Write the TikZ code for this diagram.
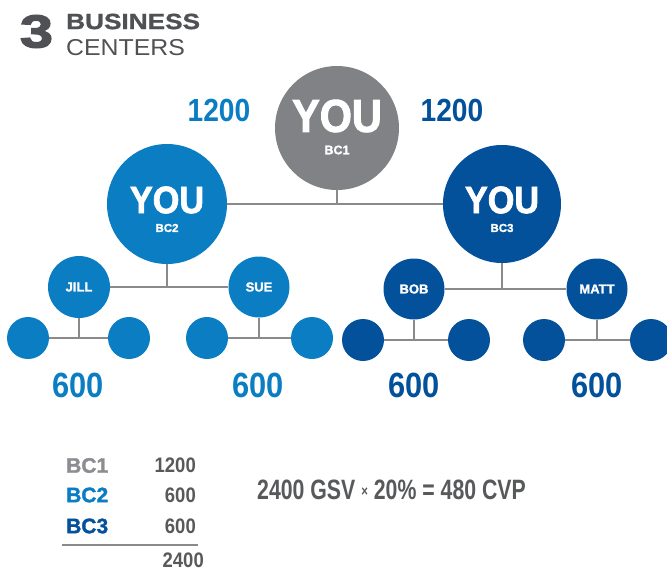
\documentclass[tikz,border=0pt]{standalone}
\usepackage{fontspec}
\setmainfont{Liberation Sans}
\newfontfamily\condf[FakeStretch=0.88]{Liberation Sans Bold}
\newfontfamily\eqf[FakeStretch=0.76]{Liberation Sans Bold}
\newfontfamily\titleb[FakeStretch=1.19,FakeBold=1.2]{Liberation Sans Bold}
\newfontfamily\titlef[FakeStretch=1.08]{Liberation Sans}
\newfontfamily\threef[FakeStretch=1.3,FakeBold=3]{Liberation Sans Bold}
\newfontfamily\youf[FakeStretch=0.9,FakeBold=2]{Liberation Sans Bold}
\newfontfamily\heavyf[FakeBold=1.5]{Liberation Sans Bold}
\definecolor{cgray}{HTML}{808285}
\definecolor{clight}{HTML}{0A7DC3}
\definecolor{cdark}{HTML}{03519B}
\definecolor{ctitle}{HTML}{505154}
\definecolor{ctext}{HTML}{58595B}
\definecolor{clabel}{HTML}{8C8D90}
\definecolor{cline}{HTML}{8A8A8C}
\tikzset{
  circ/.style={circle,draw=none,inner sep=0pt},
  conn/.style={draw=cline,line width=1.8pt},
  you/.style={inner sep=0pt,text=white,font=\youf\fontsize{#1}{#1}\selectfont},
  small/.style={inner sep=0pt,text=white,font=\heavyf\fontsize{#1}{#1}\selectfont},
  num/.style={inner sep=0pt,font=\condf\fontsize{#1}{#1}\selectfont},
  tlab/.style={inner sep=0pt,anchor=west,font=\heavyf\fontsize{21}{21}\selectfont},
}
\begin{document}
\begin{tikzpicture}[x=1pt,y=-1pt]
\useasboundingbox (0,0) rectangle (667,571);
% title
\node[inner sep=0pt,text=ctitle,font=\threef\fontsize{46}{46}\selectfont] (three) at (36.5,31.5) {3};
\node[inner sep=0pt,anchor=west,text=ctitle,font=\titleb\fontsize{22}{22}\selectfont] (business) at (66,21.5) {BUSINESS};
\node[inner sep=0pt,anchor=west,text=ctitle,font=\titlef\fontsize{23}{23}\selectfont] (centers) at (66,47.5) {CENTERS};
% main circles
\node[circ,fill=cgray,minimum size=124pt] (bc1) at (337,128) {};
\node[circ,fill=clight,minimum size=120pt] (bc2) at (167,204) {};
\node[circ,fill=cdark,minimum size=118pt] (bc3) at (502,204) {};
\node[you=46] (bc1you) at (337,116) {YOU};
\node[small=12.5] (bc1lab) at (337,150) {BC1};
\node[you=38] (bc2you) at (167,200) {YOU};
\node[small=11.5] (bc2lab) at (167,228) {BC2};
\node[you=38] (bc3you) at (502,200) {YOU};
\node[small=11.5] (bc3lab) at (502,228) {BC3};
% second level
\node[circ,fill=clight,minimum size=62pt] (jill) at (79,287) {};
\node[small=13] (jilllab) at (79,287) {JILL};
\node[circ,fill=clight,minimum size=61pt] (sue) at (259,287) {};
\node[small=13] (suelab) at (259,287) {SUE};
\node[circ,fill=cdark,minimum size=61pt] (bob) at (414,289) {};
\node[small=13] (boblab) at (414,289) {BOB};
\node[circ,fill=cdark,minimum size=61pt] (matt) at (597,289) {};
\node[small=13] (mattlab) at (597,289) {MATT};
% third level
\node[circ,fill=clight,minimum size=42pt] (j1) at (28,338) {};
\node[circ,fill=clight,minimum size=42pt] (j2) at (129,338) {};
\node[circ,fill=clight,minimum size=42pt] (s1) at (207,338) {};
\node[circ,fill=clight,minimum size=42pt] (s2) at (312,338) {};
\node[circ,fill=cdark,minimum size=42pt] (b1) at (363,340) {};
\node[circ,fill=cdark,minimum size=42pt] (b2) at (469,340) {};
\node[circ,fill=cdark,minimum size=42pt] (m1) at (544,340) {};
\node[circ,fill=cdark,minimum size=42pt] (m2) at (651,340) {};
% connectors
\draw[conn] (bc2) -- (bc3);
\draw[conn] (bc1) -- (bc1 |- bc2);
\draw[conn] (jill) -- (sue);
\draw[conn] (bc2) -- (bc2 |- jill);
\draw[conn] (bob) -- (matt);
\draw[conn] (bc3) -- (bc3 |- bob);
\draw[conn] (j1) -- (j2);
\draw[conn] (jill) -- (jill |- j1);
\draw[conn] (s1) -- (s2);
\draw[conn] (sue) -- (sue |- s1);
\draw[conn] (b1) -- (b2);
\draw[conn] (bob) -- (bob |- b1);
\draw[conn] (m1) -- (m2);
\draw[conn] (matt) -- (matt |- m1);
% volumes
\node[num=32,text=clight] (v1200a) at (219,110) {1200};
\node[num=32,text=cdark] (v1200b) at (452,110) {1200};
\node[num=35,text=clight] (v600a) at (78,385) {600};
\node[num=35,text=clight] (v600b) at (258,385) {600};
\node[num=35,text=cdark] (v600c) at (414,385) {600};
\node[num=35,text=cdark] (v600d) at (597,385) {600};
% table
\node[tlab,text=clabel] (t1) at (66,465.5) {BC1};
\node[tlab,text=clight] (t2) at (66,495) {BC2};
\node[tlab,text=cdark] (t3) at (66,526) {BC3};
\node[num=21,text=ctext,anchor=east] (n1) at (196,465.5) {1200};
\node[num=21,text=ctext,anchor=east] (n2) at (196,495) {600};
\node[num=21,text=ctext,anchor=east] (n3) at (196,526) {600};
\coordinate (ls) at (62,545);
\coordinate (le) at (198,545);
\draw[draw=cline,line width=1.5pt] (ls) -- (le);
\node[num=21,text=ctext,anchor=east] (total) at (204,560) {2400};
% equation
\node[inner sep=0pt,anchor=west,text=ctext,font=\eqf\fontsize{28}{28}\selectfont] (eq) at (257,490) {2400 GSV \raisebox{3pt}{\fontsize{15}{15}\selectfont ×} 20\% = 480 CVP};
\end{tikzpicture}
\end{document}
